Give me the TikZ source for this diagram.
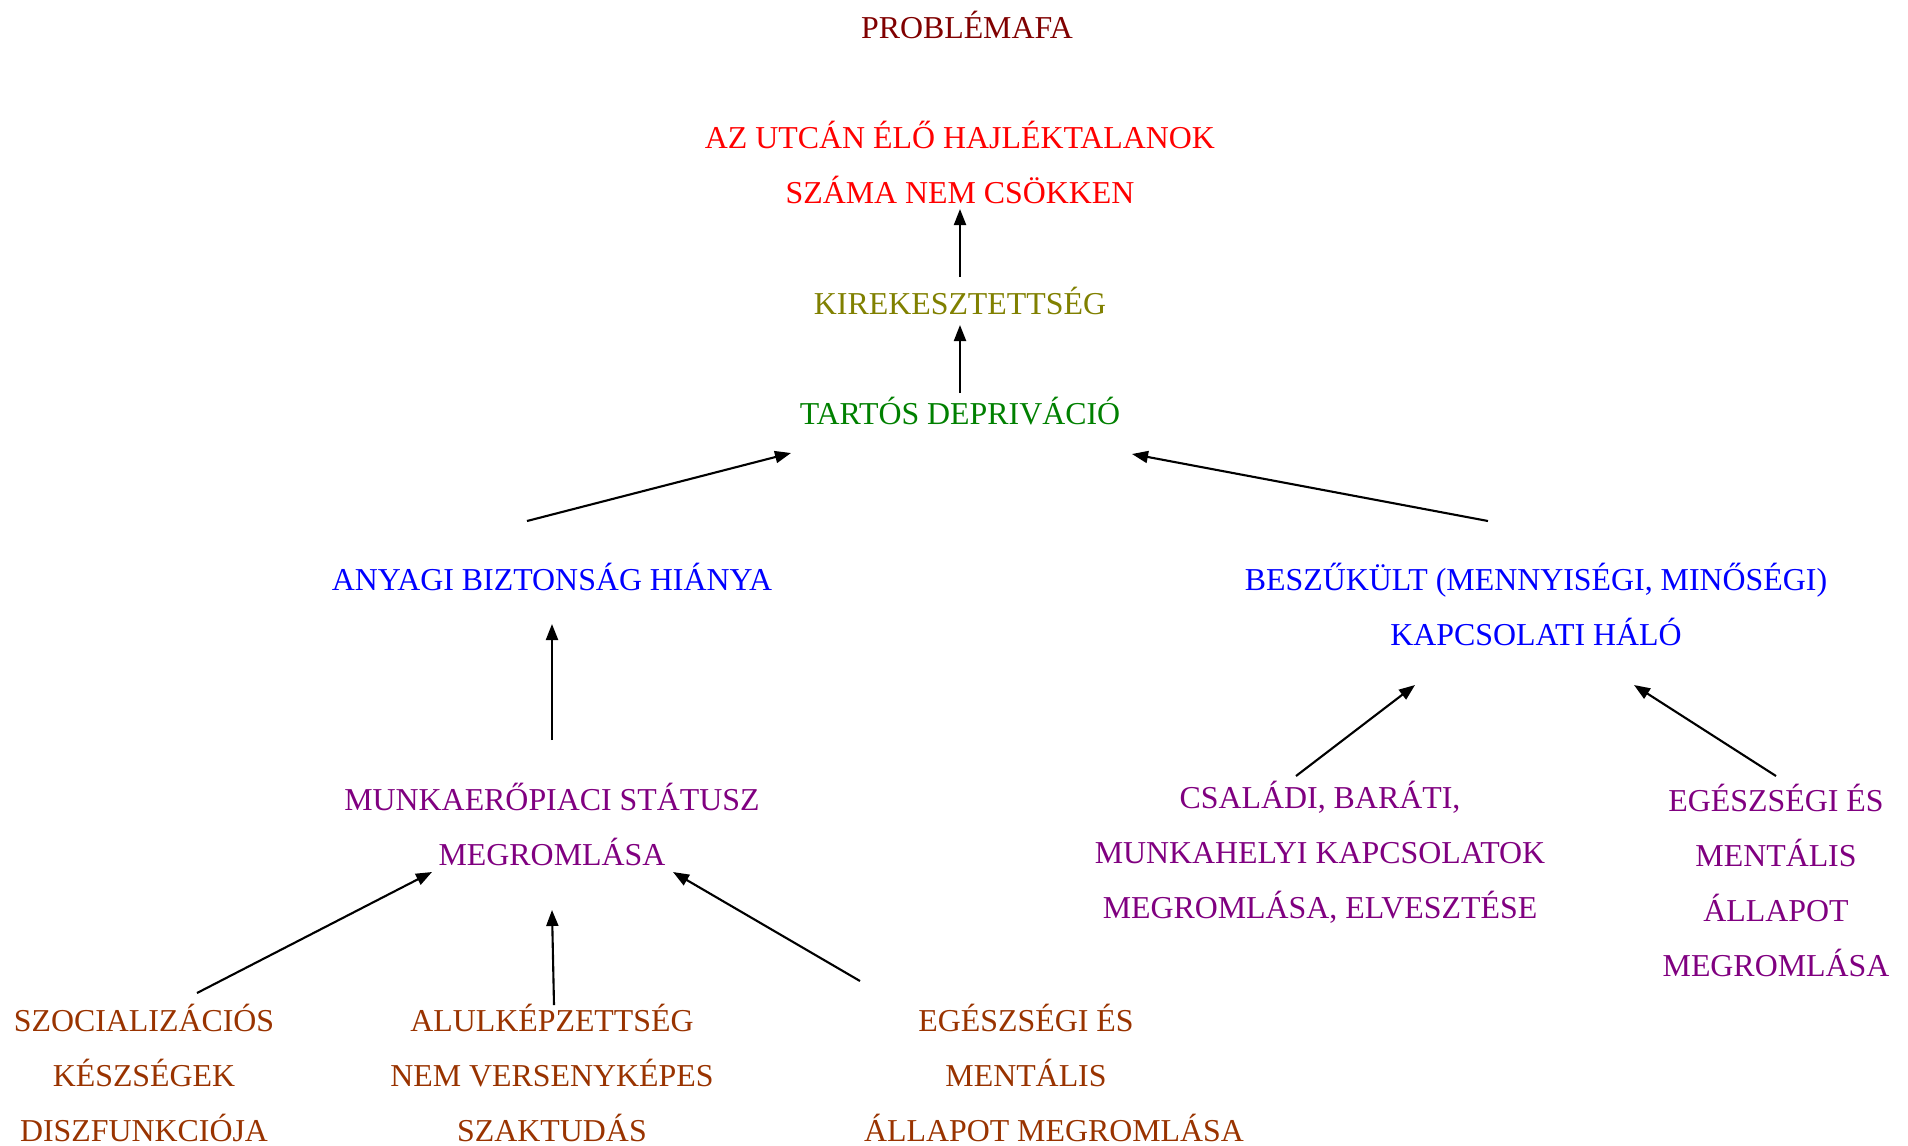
\documentclass[tikz,border=0pt]{standalone}
\usepackage{fontspec}
\setmainfont{Liberation Serif}
\usepackage{tikz}
\usetikzlibrary{arrows.meta,calc}

\definecolor{titlered}{RGB}{128,0,0}
\definecolor{olivegreen}{RGB}{128,128,0}
\definecolor{darkgreen}{RGB}{0,128,0}
\definecolor{violet}{RGB}{128,0,128}
\definecolor{rust}{RGB}{153,51,0}

\begin{document}
\begin{tikzpicture}[
  >={Triangle[length=0.16cm,width=0.12cm]},
  cause/.style={draw=black,line width=0.6pt,->},
  problem/.style={inner sep=0pt,align=center,
    font=\fontsize{9.07}{15.65}\selectfont}
]
  \useasboundingbox (0,0) rectangle (19.08,-11.45);

  % Title
  \node[problem,text=titlered] (title) at (9.67,-0.245) {PROBLÉMAFA};

  % Main trunk
  \node[problem,text=red] (top) at (9.60,-1.62)
    {AZ UTCÁN ÉLŐ HAJLÉKTALANOK\\SZÁMA NEM CSÖKKEN};
  \node[problem,text=olivegreen] (kirek) at (9.60,-3.005) {KIREKESZTETTSÉG};
  \node[problem,text=darkgreen] (tartos) at (9.60,-4.115) {TARTÓS DEPRIVÁCIÓ};

  % Second level
  \node[problem,text=blue] (anyagi) at (5.52,-5.765)
    {ANYAGI BIZTONSÁG HIÁNYA};
  \node[problem,text=blue] (beszuk) at (15.36,-6.04)
    {BESZŰKÜLT (MENNYISÉGI, MINŐSÉGI)\\KAPCSOLATI HÁLÓ};

  % Third level
  \node[problem,text=violet] (munka) at (5.52,-8.245)
    {MUNKAERŐPIACI STÁTUSZ\\MEGROMLÁSA};
  \node[problem,text=violet] (csaladi) at (13.20,-8.525)
    {CSALÁDI, BARÁTI,\\MUNKAHELYI KAPCSOLATOK\\MEGROMLÁSA, ELVESZTÉSE};
  \node[problem,text=violet] (egeszR) at (17.76,-8.80)
    {EGÉSZSÉGI ÉS\\MENTÁLIS\\ÁLLAPOT\\MEGROMLÁSA};

  % Roots
  \node[problem,text=rust] (szoc) at (1.44,-10.73)
    {SZOCIALIZÁCIÓS\\KÉSZSÉGEK\\DISZFUNKCIÓJA};
  \node[problem,text=rust] (alul) at (5.52,-10.73)
    {ALULKÉPZETTSÉG\\NEM VERSENYKÉPES\\SZAKTUDÁS};
  \node[problem,text=rust] (egeszB) at (10.26,-10.73)
    {EGÉSZSÉGI ÉS\\MENTÁLIS\\\hspace*{0.56cm}ÁLLAPOT MEGROMLÁSA};

  % Causal links
  \draw[cause] ($(kirek)+(0,0.235)$) -- ($(top)+(0,-0.47)$);
  \draw[cause] ($(tartos)+(0,0.185)$) -- ($(kirek)+(0,-0.245)$);
  \draw[cause] ($(anyagi)+(-0.25,0.555)$) -- ($(tartos)+(-1.69,-0.415)$);
  \draw[cause] ($(beszuk)+(-0.48,0.83)$) -- ($(tartos)+(1.72,-0.425)$);
  \draw[cause] ($(munka)+(0,0.845)$) -- ($(anyagi)+(0,-0.475)$);
  \draw[cause] ($(csaladi)+(-0.24,0.765)$) -- ($(beszuk)+(-1.21,-0.81)$);
  \draw[cause] ($(egeszR)+(0,1.04)$) -- ($(beszuk)+(0.98,-0.81)$);
  \draw[cause] ($(szoc)+(0.53,0.80)$) -- ($(munka)+(-1.20,-0.475)$);
  \draw[cause] ($(alul)+(0.02,0.68)$) -- ($(munka)+(0,-0.855)$);
  \draw[cause] ($(egeszB)+(-1.66,0.92)$) -- ($(munka)+(1.21,-0.475)$);
\end{tikzpicture}
\end{document}
